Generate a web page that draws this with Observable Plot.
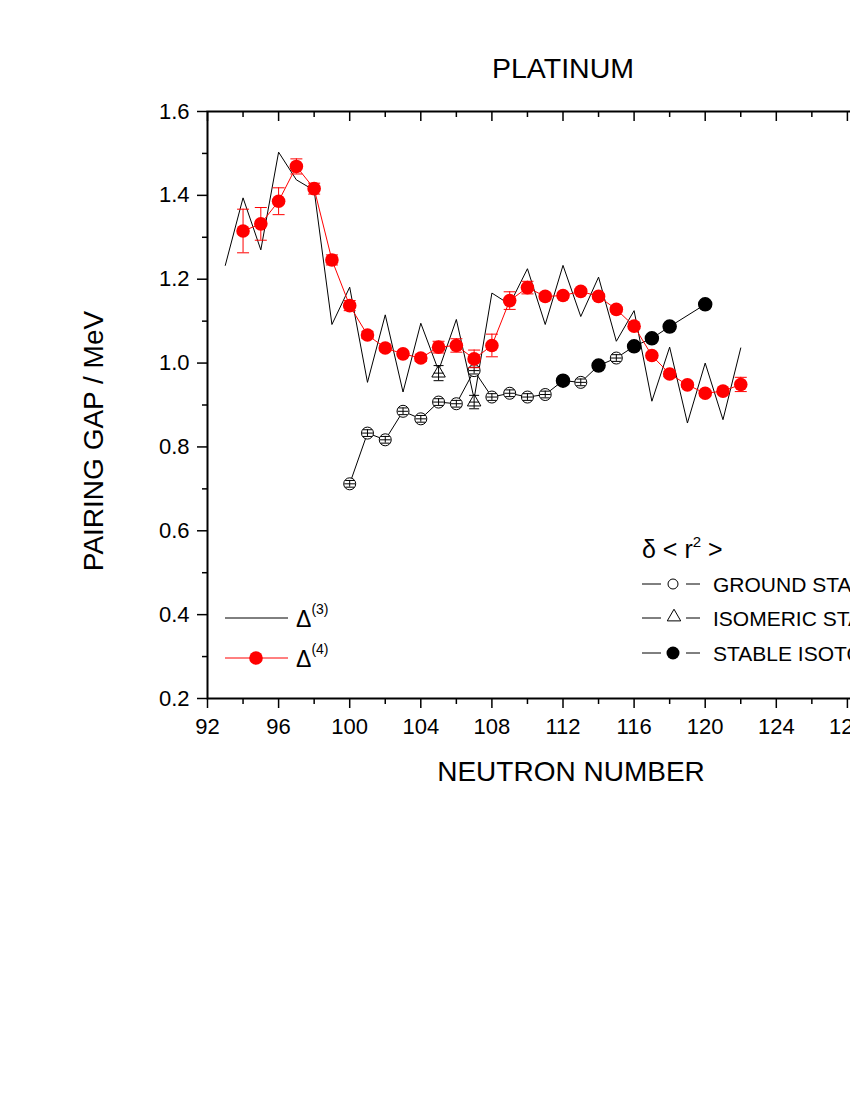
<!DOCTYPE html>
<html><head><meta charset="utf-8">
<script src="https://cdn.jsdelivr.net/npm/d3@7"></script>
<script src="https://cdn.jsdelivr.net/npm/@observablehq/plot@0.6"></script>
<style>
html,body{margin:0;padding:0;background:#fff;overflow:hidden;}
#wrap{width:850px;height:1100px;overflow:hidden;position:relative;background:#fff;}
</style></head><body><div id="wrap"></div>
<script>
// Δ(3) odd-even mass staggering
const delta3N = [93,94,95,96,97,98,99,100,101,102,103,104,105,106,107,108,109,110,111,112,113,114,115,116,117,118,119,120,121,122];
const delta3V = [1.233,1.394,1.270,1.503,1.437,1.412,1.092,1.181,0.954,1.115,0.931,1.095,0.982,1.104,0.915,1.167,1.140,1.225,1.092,1.233,1.111,1.205,1.052,1.125,0.909,1.038,0.857,1.000,0.865,1.036];
// Δ(4)
const delta4N = [94,95,96,97,98,99,100,101,102,103,104,105,106,107,108,109,110,111,112,113,114,115,116,117,118,119,120,121,122];
const delta4V = [1.315,1.332,1.386,1.469,1.416,1.246,1.137,1.067,1.036,1.022,1.012,1.038,1.042,1.010,1.042,1.149,1.180,1.159,1.161,1.171,1.159,1.128,1.088,1.018,0.974,0.948,0.928,0.933,0.949];
const delta4Err = [0.052,0.039,0.032,0.018,0.013,0.012,0.012,0.008,0.006,0.006,0.008,0.014,0.016,0.021,0.027,0.021,0.015,0.008,0.006,0.006,0.006,0.006,0.006,0.006,0.006,0.006,0.006,0.006,0.017];
// δ<r²> ground states
const groundN = [100,101,102,103,104,105,106,107,108,109,110,111,113,115];
const groundV = [0.712,0.833,0.817,0.885,0.867,0.907,0.903,0.982,0.919,0.928,0.919,0.925,0.954,1.012];
const groundErr = [0.008,0.008,0.008,0.008,0.008,0.008,0.008,0.008,0.008,0.008,0.008,0.008,0.008,0.008];
// isomeric states
const isomerN = [105,107];
const isomerV = [0.976,0.907];
const isomerErr = [0.018,0.016];
// stable isotopes
const stableN = [112,114,116,117,118,120];
const stableV = [0.958,0.994,1.040,1.059,1.087,1.140];

const xMajor = [92,96,100,104,108,112,116,120,124,128,132];
const xMinor = [94,98,102,106,110,114,118,122,126,130];
const yMajor = [0.2,0.4,0.6,0.8,1.0,1.2,1.4,1.6];
const yMinor = [0.3,0.5,0.7,0.9,1.1,1.3,1.5];

const d3t = delta3N.map((n,i)=>({n, v: delta3V[i]}));
const d4t = delta4N.map((n,i)=>({n, v: delta4V[i], e: delta4Err[i]}));
const gt = groundN.map((n,i)=>({n, v: groundV[i], e: groundErr[i]}));
const it = isomerN.map((n,i)=>({n, v: isomerV[i], e: isomerErr[i]}));
const st = stableN.map((n,i)=>({n, v: stableV[i]}));
const chain = gt.concat(st).sort((a,b)=>a.n-b.n);

const cap = {draw(ctx, size){ const w = Math.sqrt(size/Math.PI); ctx.moveTo(-w,0); ctx.lineTo(w,0); }};

const H = 800, MT = 111, MB = H - 698;
const frameH = 698 - MT;
const FONT = "'Liberation Sans', Arial, sans-serif";

const chart = Plot.plot({
  width: 948, height: H,
  marginLeft: 207, marginRight: 30, marginTop: MT, marginBottom: MB,
  style: {fontFamily: FONT, color: "#000", background: "#fff", maxWidth: "none"},
  x: {domain: [92,132], label: null},
  y: {domain: [0.2,1.6], label: null},
  marks: [
    Plot.axisX({ticks: xMajor, tickSize: 10, tickPadding: 10, fontSize: 22, strokeWidth: 1.5, tickFormat: d=>String(d), label: null}),
    Plot.axisX({ticks: xMinor, tickSize: 6, strokeWidth: 1.5, tickFormat: ()=>"", label: null}),
    Plot.ruleX(xMajor, {x: d=>d, insetBottom: frameH-10, strokeWidth: 1.5}),
    Plot.ruleX(xMinor, {x: d=>d, insetBottom: frameH-6, strokeWidth: 1.5}),
    Plot.axisY({ticks: yMajor, tickSize: 10, tickPadding: 8, fontSize: 22, strokeWidth: 1.5, tickFormat: d3.format(".1f"), label: null}),
    Plot.axisY({ticks: yMinor, tickSize: 5, strokeWidth: 1.5, tickFormat: ()=>"", label: null}),
    Plot.frame({strokeWidth: 2}),
    // Δ(3)
    Plot.line(d3t, {x: "n", y: "v", stroke: "#000", strokeWidth: 1}),
    // ground + stable chain line
    Plot.line(chain, {x: "n", y: "v", stroke: "#000", strokeWidth: 1}),
    // ground states
    Plot.dot(gt, {x: "n", y: "v", r: 6, fill: "#fff", stroke: "#000", strokeWidth: 1}),
    Plot.ruleX(gt, {x: "n", y1: d=>d.v-d.e, y2: d=>d.v+d.e, stroke: "#000", strokeWidth: 1}),
    Plot.dot(gt, {x: "n", y: d=>d.v+d.e, r: 4.5, symbol: cap, fill: "none", stroke: "#000", strokeWidth: 1}),
    Plot.dot(gt, {x: "n", y: d=>d.v-d.e, r: 4.5, symbol: cap, fill: "none", stroke: "#000", strokeWidth: 1}),
    Plot.dot(gt, {x: "n", y: "v", r: 5.5, symbol: cap, fill: "none", stroke: "#000", strokeWidth: 1}),
    // isomeric states
    Plot.dot(it, {x: "n", y: "v", r: 5, symbol: "triangle", fill: "#fff", stroke: "#000", strokeWidth: 1}),
    Plot.ruleX(it, {x: "n", y1: d=>d.v-d.e, y2: d=>d.v+d.e, stroke: "#000", strokeWidth: 1}),
    Plot.dot(it, {x: "n", y: d=>d.v+d.e, r: 5, symbol: cap, fill: "none", stroke: "#000", strokeWidth: 1}),
    Plot.dot(it, {x: "n", y: d=>d.v-d.e, r: 5, symbol: cap, fill: "none", stroke: "#000", strokeWidth: 1}),
    Plot.dot(it, {x: "n", y: "v", r: 5, symbol: cap, fill: "none", stroke: "#000", strokeWidth: 1}),
    // stable isotopes
    Plot.dot(st, {x: "n", y: "v", r: 6.5, fill: "#000", stroke: "#000"}),
    // Δ(4)
    Plot.line(d4t, {x: "n", y: "v", stroke: "#ff0000", strokeWidth: 1}),
    Plot.ruleX(d4t, {x: "n", y1: d=>d.v-d.e, y2: d=>d.v+d.e, stroke: "#ff0000", strokeWidth: 1}),
    Plot.dot(d4t, {x: "n", y: d=>d.v+d.e, r: 6, symbol: cap, fill: "none", stroke: "#ff0000", strokeWidth: 1}),
    Plot.dot(d4t, {x: "n", y: d=>d.v-d.e, r: 6, symbol: cap, fill: "none", stroke: "#ff0000", strokeWidth: 1}),
    Plot.dot(d4t, {x: "n", y: "v", r: 6.8, fill: "#ff0000", stroke: "none"}),
    // titles
    Plot.text(["PLATINUM"], {text: d=>d, frameAnchor: "top", textAnchor: "middle", lineAnchor: "bottom", dy: -34, fontSize: 28.5}),
    Plot.text(["NEUTRON NUMBER"], {text: d=>d, frameAnchor: "bottom", textAnchor: "middle", lineAnchor: "bottom", dx: 8, dy: 82, fontSize: 28}),
    Plot.text(["PAIRING GAP / MeV"], {text: d=>d, frameAnchor: "left", textAnchor: "middle", lineAnchor: "bottom", rotate: -90, dx: -105, dy: 36, fontSize: 28})
  ]
});
document.getElementById("wrap").appendChild(chart);

// legends
const svg = d3.select(chart);
const lg = svg.append("g").attr("font-family", FONT).attr("fill", "#000").attr("text-anchor", "start");
// left legend
lg.append("line").attr("x1",225).attr("x2",288).attr("y1",618).attr("y2",618).attr("stroke","#000").attr("stroke-width",1);
const t3 = lg.append("text").attr("x",296).attr("y",627).attr("font-size",23).attr("text-anchor","start").text("Δ");
t3.append("tspan").attr("dy",-13).attr("font-size",14).text("(3)");
lg.append("line").attr("x1",225).attr("x2",288).attr("y1",658).attr("y2",658).attr("stroke","#ff0000").attr("stroke-width",1);
lg.append("circle").attr("cx",256).attr("cy",658).attr("r",6.8).attr("fill","#ff0000");
const t4 = lg.append("text").attr("x",296).attr("y",667).attr("font-size",23).attr("text-anchor","start").text("Δ");
t4.append("tspan").attr("dy",-13).attr("font-size",14).text("(4)");
// right legend
const tr = lg.append("text").attr("x",642).attr("y",558).attr("font-size",25).attr("text-anchor","start").text("δ < r");
tr.append("tspan").attr("dy",-11).attr("font-size",15).text("2");
tr.append("tspan").attr("dy",11).attr("font-size",25).text(" >");
const rows = [
  {y: 584, label: "GROUND STATES", kind: "circle"},
  {y: 618, label: "ISOMERIC STATES", kind: "triangle"},
  {y: 653, label: "STABLE ISOTOPES", kind: "filled"}
];
rows.forEach(r => {
  lg.append("line").attr("x1",642).attr("x2",661).attr("y1",r.y).attr("y2",r.y).attr("stroke","#000").attr("stroke-width",1);
  lg.append("line").attr("x1",686).attr("x2",700).attr("y1",r.y).attr("y2",r.y).attr("stroke","#000").attr("stroke-width",1);
  if (r.kind === "circle") lg.append("circle").attr("cx",673).attr("cy",r.y).attr("r",5).attr("fill","#fff").attr("stroke","#000");
  else if (r.kind === "filled") lg.append("circle").attr("cx",673).attr("cy",r.y).attr("r",6.5).attr("fill","#000");
  else lg.append("path").attr("d", d3.symbol(d3.symbolTriangle, Math.PI*25)()).attr("transform",`translate(674,${r.y-1})`).attr("fill","#fff").attr("stroke","#000");
  lg.append("text").attr("x",713).attr("y",r.y+8).attr("font-size",21).attr("text-anchor","start").text(r.label);
});
</script>
</body></html>
